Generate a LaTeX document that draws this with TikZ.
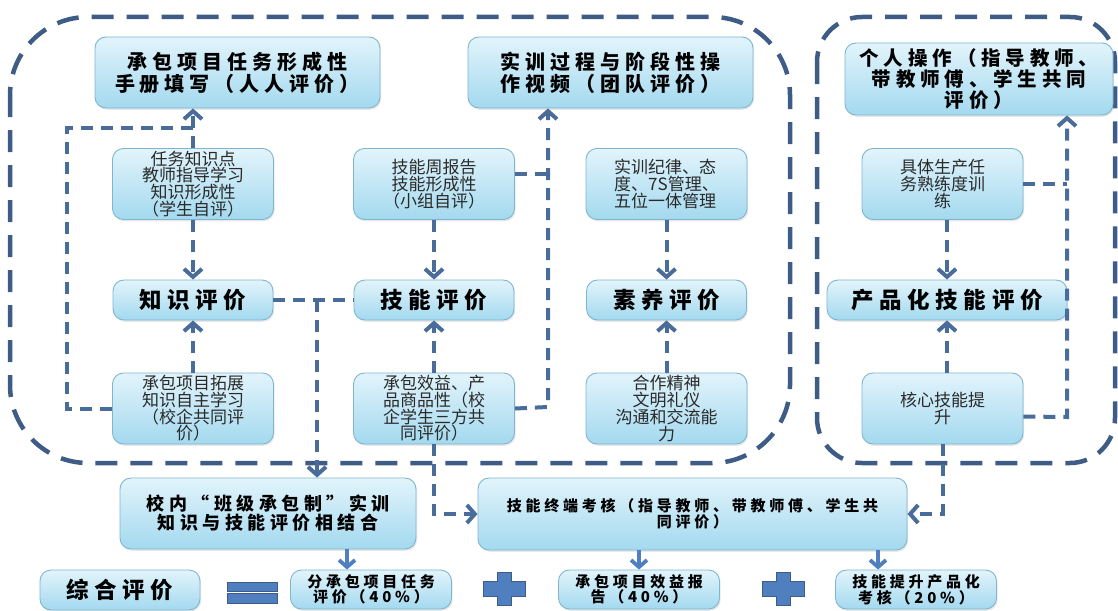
\documentclass[tikz,border=0pt]{standalone}
\usepackage{fontspec}
\usepackage{xcolor}
\usepackage{tikz}
\usetikzlibrary{arrows.meta, positioning, shadows}
\newfontfamily\cjk{Noto Sans CJK SC}
\newfontfamily\cjkwide{Noto Sans CJK SC}[LetterSpace=25]
\definecolor{boxtop}{HTML}{E2F4FB}
\definecolor{boxbot}{HTML}{A3D9EF}
\definecolor{boxline}{HTML}{7FB6CE}
\definecolor{dashblue}{HTML}{4A6C9B}
\definecolor{frameblue}{HTML}{3E5C86}
\definecolor{sumblue}{HTML}{4F7FBE}
\definecolor{textgray}{HTML}{2A2A2A}

\begin{document}
\begin{tikzpicture}[x=1pt, y=-1pt,
  box/.style={rectangle, rounded corners=11pt, draw=boxline, line width=0.9pt, top color=boxtop, bottom color=boxbot, drop shadow={opacity=0.18, shadow xshift=1.2pt, shadow yshift=-1.8pt}, align=center, inner sep=1pt},
  headbox/.style={box, font=\cjkwide\bfseries\fontsize{20}{22}\selectfont},
  evalbox/.style={box, minimum width=160pt, minimum height=40pt, font=\cjkwide\bfseries\fontsize{22.5}{24}\selectfont},
  notebox/.style={box, minimum width=161pt, minimum height=71pt, text=textgray, font=\cjk\fontsize{17}{16.7}\selectfont},
  sumbox/.style={box, minimum width=161pt, minimum height=39pt, font=\cjkwide\bfseries\fontsize{15}{14}\selectfont},
  conn/.style={draw=dashblue, line width=4pt, dash pattern=on 12pt off 8pt},
  arr/.style={conn, -{Straight Barb[length=8pt, width=18pt]}},
  sumarr/.style={draw=sumblue, line width=3.8pt, -{Straight Barb[length=7pt, width=16pt]}},
  frame/.style={draw=frameblue, line width=4.5pt, dash pattern=on 22pt off 13pt}
]
\useasboundingbox (0,0) rectangle (1118,610);
\draw[frame, rounded corners=78pt] (10,17) rectangle (790,463);
\draw[frame, rounded corners=45pt] (817,17) rectangle (1115,463);

\node[headbox, minimum width=285pt, minimum height=71pt] (task) at (237.5,72.5) {承包项目任务形成性\\手册填写（人人评价）};
\node[headbox, minimum width=285pt, minimum height=71pt] (video) at (610.5,72.5) {实训过程与阶段性操\\作视频（团队评价）};
\node[headbox, minimum width=268pt, minimum height=72pt, font=\cjkwide\bfseries\fontsize{19.5}{21}\selectfont] (personal) at (979,79) {个人操作（指导教师、\\带教师傅、学生共同\\评价）};

\node[notebox] (kself) at (193,184) {任务知识点\\教师指导学习\\知识形成性\\（学生自评）};
\node[notebox] (sweek) at (434,184) {技能周报告\\技能形成性\\（小组自评）};
\node[notebox, align=left] (qdisc) at (666.5,184) {实训纪律、态\\度、7S管理、\\五位一体管理};
\node[notebox] (ptrain) at (942.5,184) {具体生产任\\务熟练度训\\练};

\node[evalbox] (keval) at (193,300) {知识评价};
\node[evalbox] (seval) at (434,300) {技能评价};
\node[evalbox] (qeval) at (666.5,300) {素养评价};
\node[evalbox, minimum width=240pt] (peval) at (947,300) {产品化技能评价};

\node[notebox] (kext) at (193,408.5) {承包项目拓展\\知识自主学习\\（校企共同评\\价）};
\node[notebox] (sbenefit) at (434,408.5) {承包效益、产\\品商品性（校\\企学生三方共\\同评价）};
\node[notebox] (qcoop) at (666.5,408.5) {合作精神\\文明礼仪\\沟通和交流能\\力};
\node[notebox] (pcore) at (942.5,408.5) {核心技能提\\升};

\node[box, minimum width=296pt, minimum height=71pt, font=\cjkwide\bfseries\fontsize{18}{19}\selectfont] (combine) at (268,513.5) {校内“班级承包制”实训\\知识与技能评价相结合};
\node[box, minimum width=429pt, minimum height=72pt, font=\cjkwide\bfseries\fontsize{15}{14}\selectfont] (terminal) at (692.5,514) {技能终端考核（指导教师、带教师傅、学生共\\同评价）};

\node[evalbox, minimum height=40pt] (total) at (120,590) {综合评价};
\node[sumbox] (part1) at (371,589.5) {分承包项目任务\\评价（40\%）};
\node[sumbox] (part2) at (639,589.5) {承包项目效益报\\告（40\%）};
\node[sumbox] (part3) at (916,589.5) {技能提升产品化\\考核（20\%）};

\coordinate (kcorner) at (67,128);
\coordinate (kjunc) at (317,300);
\coordinate (scorner) at (548,407);
\coordinate (pcorner) at (1067,417);

\draw[arr] (kself.north) -- (kself.north |- task.south);
\draw[arr] (kself.south) -- (kself.south |- keval.north);
\draw[arr] (kext.north) -- (kext.north |- keval.south);
\draw[conn] (kext.west) -| (kcorner) -- (kcorner -| kself.north);
\draw[conn] (keval.east) -- (seval.west);
\draw[arr] (kjunc) -- (kjunc |- combine.north);

\draw[arr] (sweek.south) -- (sweek.south |- seval.north);
\draw[arr] (sbenefit.north) -- (sbenefit.north |- seval.south);
\draw[conn] ([yshift=10pt]sweek.east) -- ([yshift=10pt]sweek.east -| scorner);
\draw[arr] (sbenefit.east) -- (scorner) -- (scorner |- video.south);
\draw[arr] (sbenefit.south) |- (terminal.west);

\draw[arr] (qdisc.south) -- (qdisc.south |- qeval.north);
\draw[arr] (qcoop.north) -- (qcoop.north |- qeval.south);

\draw[arr] (ptrain.south -| peval.north) -- (peval.north);
\draw[arr] (pcore.north -| peval.south) -- (peval.south);
\draw[conn] (ptrain.east) -- (ptrain.east -| pcorner);
\draw[arr] ([yshift=-8pt]pcore.east) -- (pcorner) -- (pcorner |- personal.south);
\draw[arr] (pcore.south) |- (terminal.east);

\draw[sumarr] ([xshift=-24pt]part1.north |- combine.south) -- ([xshift=-24pt]part1.north);
\draw[sumarr] (part2.north |- terminal.south) -- (part2.north);
\draw[sumarr] ([xshift=-38pt]part3.north |- terminal.south) -- ([xshift=-38pt]part3.north);

\filldraw[fill=sumblue, draw=frameblue, line width=0.8pt] (227,582) rectangle (277,591) (227,593.5) rectangle (277,603);
\foreach \cx in {504,783}
  \filldraw[fill=sumblue, draw=frameblue, line width=0.8pt] (\cx-7,572.5) -- (\cx+7,572.5) -- (\cx+7,581.5) -- (\cx+21,581.5) -- (\cx+21,596.5) -- (\cx+7,596.5) -- (\cx+7,605.5) -- (\cx-7,605.5) -- (\cx-7,596.5) -- (\cx-21,596.5) -- (\cx-21,581.5) -- (\cx-7,581.5) -- cycle;
\end{tikzpicture}
\end{document}
